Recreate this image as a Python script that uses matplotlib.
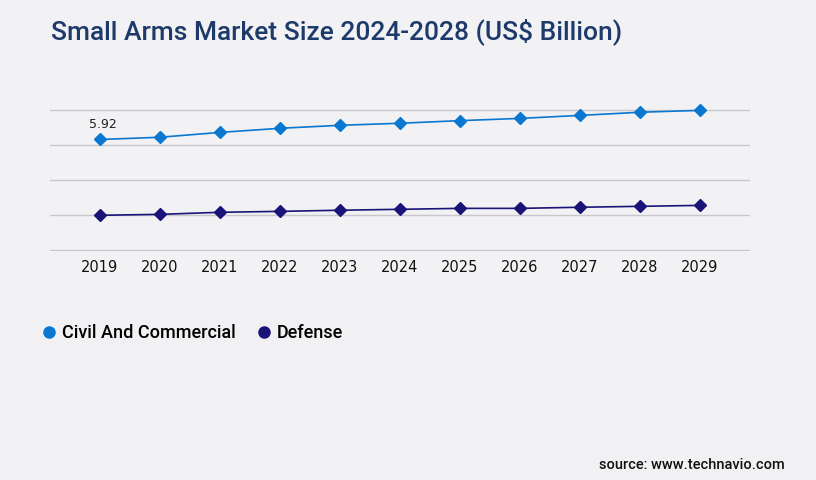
import matplotlib
matplotlib.use("Agg")
import matplotlib.pyplot as plt
from matplotlib.patches import Rectangle
from matplotlib.lines import Line2D

years = [2019, 2020, 2021, 2022, 2023, 2024, 2025, 2026, 2027, 2028, 2029]
civil = [5.92, 6.04, 6.30, 6.52, 6.68, 6.79, 6.93, 7.05, 7.21, 7.38, 7.48]
defense = [1.86, 1.91, 2.02, 2.07, 2.13, 2.18, 2.23, 2.23, 2.29, 2.34, 2.39]
series_names = ["Civil And Commercial", "Defense"]
colors = ["#0a78d0", "#1a1478"]
y_ticks = [0, 1.875, 3.75, 5.625, 7.5]

bg = "#f2f2f4"
fig = plt.figure(figsize=(8.16, 4.8), dpi=100, facecolor=bg)

# faint lower panel
fig.patches.append(Rectangle((30 / 816, 0), 763 / 816, 180 / 480,
                             transform=fig.transFigure, facecolor="#f1f1f3",
                             edgecolor="none", zorder=0))

ax = fig.add_axes([50 / 816, 229 / 480, 700 / 816, 142 / 480])
ax.set_facecolor("none")
ax.set_xlim(years[0] - 50 / 60, years[-1] + 50 / 60)
ax.set_ylim(-1 / 18.67, 7.5 + 1 / 18.67)
ax.set_yticks(y_ticks)
ax.yaxis.grid(True, color="#c8c8cc", linewidth=1)
ax.set_axisbelow(True)
ax.tick_params(axis="y", left=False, labelleft=False)
ax.tick_params(axis="x", bottom=False, labelsize=10.5, pad=3, colors="#111111")
ax.set_xticks(years)
ax.set_xticklabels([str(y) for y in years], family="DejaVu Sans")
for s in ax.spines.values():
    s.set_visible(False)

for vals, c in zip([civil, defense], colors):
    ax.plot(years, vals, color=c, linewidth=1.2, marker="D", markersize=6,
            clip_on=False, zorder=3)

ax.annotate(f"{civil[0]:.2f}", (years[0], civil[0]), xytext=(2, 6),
            textcoords="offset points", ha="center", va="bottom",
            fontsize=9, color="#222222")

fig.text(51 / 816, 1 - 32 / 480, "Small Arms Market Size 2024-2028 (US$ Billion)",
         family="Roboto", fontweight="medium", fontsize=19, color="#1d3a6b",
         va="center", ha="left")

handles = [Line2D([], [], linestyle="none", marker="o", markersize=8,
                  color=c) for c in colors]
fig.legend(handles, series_names, loc="center left",
           bbox_to_anchor=(22 / 816, 1 - 333 / 480), frameon=False,
           ncol=2, handletextpad=0.1, columnspacing=1.0, handlelength=1.2,
           prop={"family": "Roboto", "size": 13, "weight": "medium"})

fig.text(785 / 816, 1 - 465 / 480, "source: www.technavio.com", family="Roboto",
         fontweight="medium", fontsize=10.5, color="#111111", ha="right", va="center")

fig.savefig("out.png", dpi=100, facecolor=bg)
